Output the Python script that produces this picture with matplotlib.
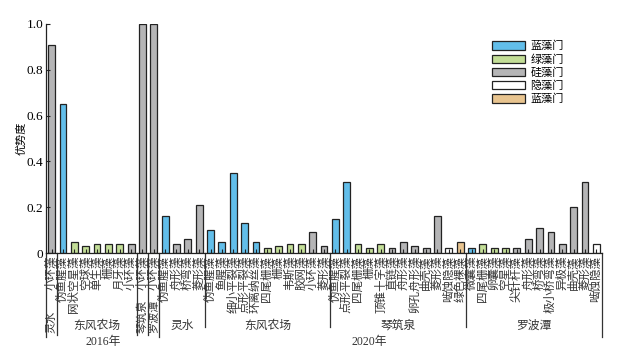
import matplotlib
matplotlib.use('Agg')
import matplotlib.pyplot as plt
from matplotlib.patches import Patch

plt.rcParams['font.family'] = ['Liberation Serif', 'Noto Sans CJK SC']

# species per bar, left to right
labels = ['小环藻',
          '伪鱼腥藻', '网状空星藻', '空球藻', '单生藻', '栅藻', '月牙藻', '小环藻',
          '小环藻',
          '小环藻',
          '伪鱼腥藻', '舟形藻', '桥弯藻', '菱形藻',
          '伪鱼腥藻', '鱼腥藻', '细小平裂藻', '点形平裂藻', '环离纳丝藻', '四尾栅藻',
          '栅藻', '韦斯藻', '胶网藻', '小环藻', '菱形藻',
          '伪鱼腥藻', '点形平裂藻', '四尾栅藻', '栅藻', '顶锥十字藻', '直链藻',
          '舟形藻', '卵孔舟形藻', '曲壳藻', '菱形藻', '啮蚀隐藻', '绿色裸藻',
          '微囊藻', '四尾栅藻', '卵囊藻', '空星藻', '尖针杆藻', '舟形藻',
          '桥弯藻', '极小桥弯藻', '异极藻', '曲壳藻', '菱形藻', '啮蚀隐藻']
values = [0.91,
          0.65, 0.05, 0.03, 0.04, 0.04, 0.04, 0.04,
          1.0,
          1.0,
          0.16, 0.04, 0.06, 0.21,
          0.10, 0.05, 0.35, 0.13, 0.05, 0.02, 0.03, 0.04, 0.04, 0.09, 0.03,
          0.15, 0.31, 0.04, 0.02, 0.04, 0.02, 0.05, 0.03, 0.02, 0.16, 0.02, 0.05,
          0.02, 0.04, 0.02, 0.02, 0.02, 0.06, 0.11, 0.09, 0.04, 0.20, 0.31, 0.04]
# 0 蓝藻门 1 绿藻门 2 硅藻门 3 隐藻门 4 (tan)
phylum = [2,
          0, 1, 1, 1, 1, 1, 2,
          2,
          2,
          0, 2, 2, 2,
          0, 0, 0, 0, 0, 1, 1, 1, 1, 2, 2,
          0, 0, 1, 1, 1, 2, 2, 2, 2, 2, 3, 4,
          0, 1, 1, 1, 2, 2, 2, 2, 2, 2, 2, 3]

site_names = ['灵水', '东风农场', '琴筑泉', '罗波潭', '灵水', '东风农场', '琴筑泉', '罗波潭']
site_counts = [1, 7, 1, 1, 4, 11, 12, 12]
years = ['2016年', '2020年']
year_counts = [10, 39]

legend_labels = ['蓝藻门', '绿藻门', '硅藻门', '隐藻门', '蓝藻门']
colors = ['#62BEEA', '#C3DE97', '#B5B5B6', '#FFFFFF', '#E8C48F']

fig = plt.figure(figsize=(6.27, 3.56), dpi=100)
ax = fig.add_axes([46 / 627, 103 / 356, 556 / 627, 229 / 356])

x = list(range(len(values)))
ax.bar(x, values, width=0.6, color=[colors[p] for p in phylum],
       edgecolor='#222222', linewidth=0.9)

ax.set_xlim(-0.5, len(values) - 0.5)
ax.set_ylim(0, 1.0)
ax.set_yticks([0, 0.2, 0.4, 0.6, 0.8, 1.0])
ax.set_yticklabels(['0', '0.2', '0.4', '0.6', '0.8', '1.0'], fontsize=9.5)
ax.set_xticks(x)
ax.set_xticklabels([])
ax.tick_params(axis='both', direction='in', length=3, width=0.8, color='#222222')
ax.tick_params(axis='y', pad=2)
for s in ['top', 'right']:
    ax.spines[s].set_visible(False)
for s in ['left', 'bottom']:
    ax.spines[s].set_linewidth(0.9)
    ax.spines[s].set_color('#222222')
ax.set_ylabel('优势度', fontsize=8, labelpad=0)

trans = ax.get_xaxis_transform()
for i, lab in enumerate(labels):
    ax.text(i, -0.012, lab, rotation=90, ha='center', va='top', fontsize=8.3,
            transform=trans, color='#333333')

# site separators and names
start = 0
year_ends = []
acc = 0
for c in year_counts:
    acc += c
    year_ends.append(acc)
for k, (name, c) in enumerate(zip(site_names, site_counts)):
    left = start - 0.5
    right = start + c - 0.5
    mid = start + (c - 1) / 2
    in_2016 = start < year_counts[0]
    depth = -0.36 if in_2016 else -0.323
    if left == -0.5 or (start in year_ends):
        depth = -0.367
    ax.plot([left, left], [0, depth], transform=trans, clip_on=False,
            color='#333333', lw=0.9)
    if c == 1:
        ax.text(mid, -0.349, name, rotation=90, ha='center', va='bottom',
                fontsize=8, transform=trans, color='#333333')
    else:
        ax.text(mid, -0.319, name, ha='center', va='center', fontsize=8.5,
                transform=trans, color='#333333')
    start += c
ax.plot([len(values) - 0.5] * 2, [0, -0.367], transform=trans, clip_on=False,
        color='#333333', lw=0.9)

start = 0
for name, c in zip(years, year_counts):
    ax.text(start + (c - 1) / 2 - (1 if c > 20 else 0), -0.389, name,
            ha='center', va='center', fontsize=8.5, transform=trans, color='#333333')
    start += c

handles = [Patch(facecolor=col, edgecolor='#222222', linewidth=0.9) for col in colors]
fig.legend(handles, legend_labels, loc='upper left', bbox_to_anchor=(492 / 627, 1 - 41 / 356),
           frameon=False, fontsize=8, handlelength=3.0, handleheight=0.75,
           handletextpad=0.45, labelspacing=0.25, borderpad=0, borderaxespad=0)

fig.savefig('out.png', dpi=100)
